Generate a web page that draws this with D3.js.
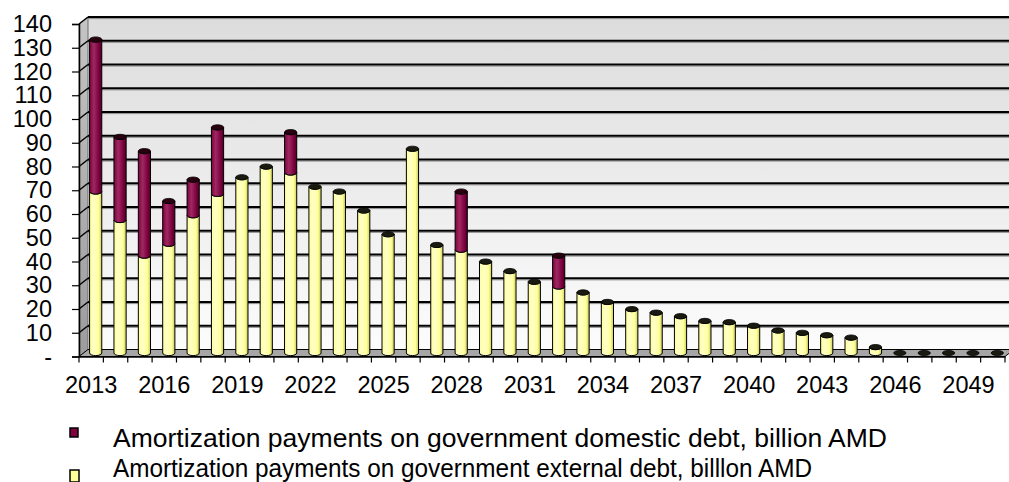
<!DOCTYPE html>
<html>
<head>
<meta charset="utf-8">
<script src="https://cdn.jsdelivr.net/npm/d3@7"></script>
<style>
  body { margin: 0; background: #fff; }
  svg { display: block; font-family: Arial, "Liberation Sans", sans-serif; }
</style>
</head>
<body>
<svg id="chart" width="1009" height="482"></svg>
<script>
// data
const years = [2013, 2014, 2015, 2016, 2017, 2018, 2019, 2020, 2021, 2022,
  2023, 2024, 2025, 2026, 2027, 2028, 2029, 2030, 2031, 2032,
  2033, 2034, 2035, 2036, 2037, 2038, 2039, 2040, 2041, 2042,
  2043, 2044, 2045, 2046, 2047, 2048, 2049, 2050];
const externalDebt = [68, 56, 41, 46, 58, 67, 74, 78.5, 76, 70,
  68, 60, 50, 86, 45.5, 43.5, 38.5, 34.5, 30, 28,
  25.5, 21.5, 18.5, 17, 15.5, 13.5, 13, 11.5, 9.5, 8.5,
  7.5, 6.5, 2.5, 0, 0, 0, 0, 0];
const domesticDebt = [64, 35, 44, 18, 15, 28, 0, 0, 17, 0,
  0, 0, 0, 0, 0, 24.5, 0, 0, 0, 13,
  0, 0, 0, 0, 0, 0, 0, 0, 0, 0,
  0, 0, 0, 0, 0, 0, 0, 0];
const yTicks = [0, 10, 20, 30, 40, 50, 60, 70, 80, 90, 100, 110, 120, 130, 140];
const labelYears = [2013, 2016, 2019, 2022, 2025, 2028, 2031, 2034, 2037, 2040, 2043, 2046, 2049];
const legendLabels = [
  "Amortization payments on government domestic debt, billion AMD",
  "Amortization payments on government external debt, billlon AMD"
];

const svg = d3.select("#chart");
const depthX = 9, depthY = 7; // 3D depth offset of the back wall

const x = d3.scaleBand().domain(years).range([79, 1005]).padding(0);
const y = d3.scaleLinear().domain([0, 140]).range([356.5, 24]);
const bw = x.bandwidth();

const defs = svg.append("defs");
const wallGrad = defs.append("linearGradient").attr("id", "wall")
  .attr("x1", 0).attr("y1", 0).attr("x2", 0).attr("y2", 1);
wallGrad.append("stop").attr("offset", "0%").attr("stop-color", "#dcdcdc");
wallGrad.append("stop").attr("offset", "100%").attr("stop-color", "#fcfcfc");

const sideGrad = defs.append("linearGradient").attr("id", "side")
  .attr("x1", 0).attr("y1", 0).attr("x2", 0).attr("y2", 1);
sideGrad.append("stop").attr("offset", "0%").attr("stop-color", "#c4c4c4");
sideGrad.append("stop").attr("offset", "100%").attr("stop-color", "#9c9c9c");

function cylGrad(id, dark, mid, light) {
  const g = defs.append("linearGradient").attr("id", id)
    .attr("x1", 0).attr("y1", 0).attr("x2", 1).attr("y2", 0);
  g.append("stop").attr("offset", "0%").attr("stop-color", mid);
  g.append("stop").attr("offset", "35%").attr("stop-color", light);
  g.append("stop").attr("offset", "75%").attr("stop-color", mid);
  g.append("stop").attr("offset", "100%").attr("stop-color", dark);
}
cylGrad("yel", "#c9c960", "#ffff99", "#ffffc8");
cylGrad("mar", "#4a0022", "#800040", "#9c2a60");

// back wall
const x0 = x.range()[0], x1 = x.range()[1];
svg.append("rect")
  .attr("x", x0 + depthX).attr("y", y(140) - depthY)
  .attr("width", x1 - x0).attr("height", y(0) - y(140))
  .attr("fill", "url(#wall)");

// left side wall
svg.append("path")
  .attr("d", `M${x0},${y(0)} L${x0},${y(140)} L${x0 + depthX},${y(140) - depthY} L${x0 + depthX},${y(0) - depthY} Z`)
  .attr("fill", "url(#side)").attr("stroke", "#555").attr("stroke-width", 0.8);

// floor
svg.append("path")
  .attr("d", `M${x0},${y(0)} L${x0 + depthX},${y(0) - depthY} L${x1 + depthX},${y(0) - depthY} L${x1},${y(0)} Z`)
  .attr("fill", "#a6a6a6").attr("stroke", "#000").attr("stroke-width", 1);

// gridlines on back wall and left wall
const grid = svg.append("g");
yTicks.filter(d => d > 0).forEach(d => {
  const yb = y(d) - depthY;
  grid.append("line").attr("x1", x0 + depthX).attr("x2", x1 + depthX)
    .attr("y1", yb + 1.6).attr("y2", yb + 1.6).attr("stroke", "#8c8c8c").attr("stroke-width", 1);
  grid.append("line").attr("x1", x0 + depthX).attr("x2", x1 + depthX)
    .attr("y1", yb).attr("y2", yb).attr("stroke", "#000").attr("stroke-width", 2);
  grid.append("line").attr("x1", x0).attr("x2", x0 + depthX)
    .attr("y1", y(d)).attr("y2", yb).attr("stroke", "#000").attr("stroke-width", 1.5);
});

// cylinders
const rx = bw * 0.25, ry = 2.6;
function body(cx, yb, yt) {
  const xl = cx - rx, xr = cx + rx;
  return `M${xl},${yt} L${xl},${yb} A${rx},${ry} 0 0 0 ${xr},${yb} L${xr},${yt} A${rx},${ry} 0 0 1 ${xl},${yt} Z`;
}
const bars = svg.append("g");
years.forEach((yr, i) => {
  const cx = x(yr) + bw / 2 + depthX / 2;
  const base = y(0) - depthY / 2;
  const ext = externalDebt[i], dom = domesticDebt[i];
  const yExt = y(ext) - depthY / 2;
  const yTot = y(ext + dom) - depthY / 2;
  if (ext > 0) {
    bars.append("path").attr("d", body(cx, base, yExt))
      .attr("fill", "url(#yel)").attr("stroke", "#000").attr("stroke-width", 1);
  }
  if (dom > 0) {
    bars.append("path").attr("d", body(cx, yExt, yTot))
      .attr("fill", "url(#mar)").attr("stroke", "#000").attr("stroke-width", 1);
  }
  bars.append("ellipse").attr("cx", cx).attr("cy", yTot).attr("rx", rx).attr("ry", ry)
    .attr("fill", dom > 0 ? "#2a0010" : "#1a1a10").attr("stroke", "#000").attr("stroke-width", 0.8);
});

// y axis
const yAxis = svg.append("g").attr("transform", `translate(${x0},0)`)
  .call(d3.axisLeft(y).tickValues(yTicks).tickSize(7).tickPadding(20)
    .tickFormat(d => d === 0 ? "-" : d));
yAxis.select(".domain").attr("stroke", "#000").attr("stroke-width", 1.5);
yAxis.selectAll("line").attr("stroke", "#000").attr("stroke-width", 1.2);
yAxis.selectAll("text").attr("font-size", 23.5).attr("fill", "#000")
  .attr("font-family", "Arial, 'Liberation Sans', sans-serif");

// x axis
const xAxis = svg.append("g").attr("transform", `translate(0,${y(0)})`)
  .call(d3.axisBottom(x).tickValues(labelYears).tickSize(0).tickPadding(20));
xAxis.select(".domain").attr("stroke", "#000").attr("stroke-width", 1.5);
xAxis.selectAll("text").attr("font-size", 23.5).attr("fill", "#000")
  .attr("font-family", "Arial, 'Liberation Sans', sans-serif");
xAxis.selectAll(".boundary").data(years.concat([null])).enter().append("line")
  .attr("x1", d => d === null ? x1 : x(d)).attr("x2", d => d === null ? x1 : x(d))
  .attr("y1", 0).attr("y2", 6).attr("stroke", "#000").attr("stroke-width", 1.2);

// legend
const legend = svg.append("g").attr("font-size", 25).attr("fill", "#000");
const legendColors = ["#800040", "#ffff99"];
const legendBaselines = [446.5, 476.5];
const legendWidths = [774, 699];
const legendBoxes = [[70, 428, 8, 9], [70, 470, 9, 12]];
legendLabels.forEach((lab, i) => {
  const b = legendBoxes[i];
  legend.append("rect").attr("x", b[0]).attr("y", b[1]).attr("width", b[2]).attr("height", b[3])
    .attr("fill", legendColors[i]).attr("stroke", "#000").attr("stroke-width", 1.5);
  legend.append("text").attr("x", 113).attr("y", legendBaselines[i])
    .attr("textLength", legendWidths[i]).attr("lengthAdjust", "spacingAndGlyphs")
    .text(lab);
});
</script>
</body>
</html>
